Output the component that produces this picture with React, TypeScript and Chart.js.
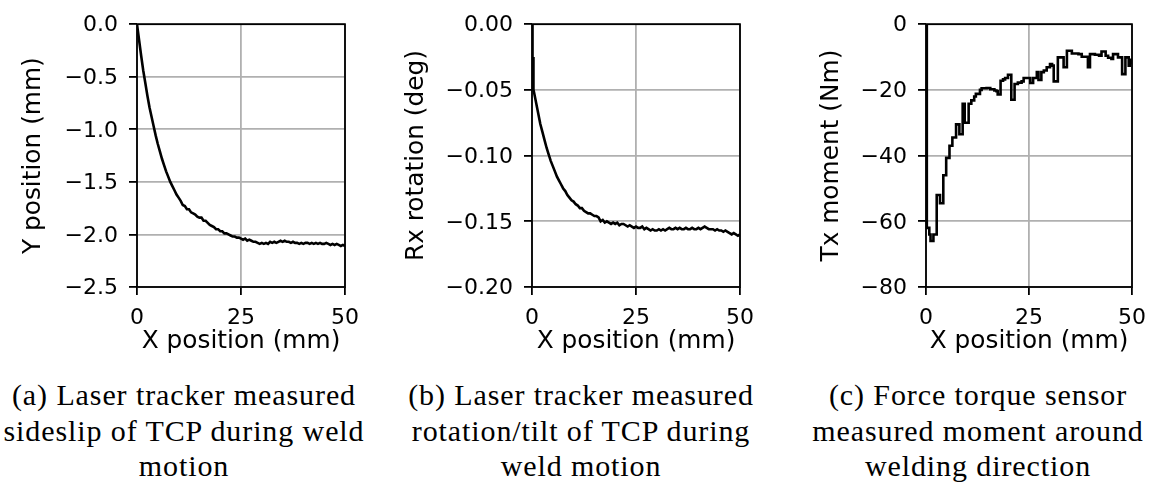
import React, { useEffect, useRef } from 'react';
import { Chart, registerables } from 'chart.js';

Chart.register(...registerables);

// ---------- data ----------
const xA = [0, 0.5, 1, 1.5, 2, 2.5, 3, 3.5, 4, 4.5, 5, 5.5, 6, 6.5, 7, 7.5, 8, 8.5, 9, 9.5, 10, 10.5, 11, 11.5, 12, 12.5, 13, 13.5, 14, 14.5, 15, 15.5, 16, 16.5, 17, 17.5, 18, 18.5, 19, 19.5, 20, 20.5, 21, 21.5, 22, 22.5, 23, 23.5, 24, 24.5, 25, 25.5, 26, 26.5, 27, 27.5, 28, 28.5, 29, 29.5, 30, 30.5, 31, 31.5, 32, 32.5, 33, 33.5, 34, 34.5, 35, 35.5, 36, 36.5, 37, 37.5, 38, 38.5, 39, 39.5, 40, 40.5, 41, 41.5, 42, 42.5, 43, 43.5, 44, 44.5, 45, 45.5, 46, 46.5, 47, 47.5, 48, 48.5, 49, 49.5, 50];
const yA = [0, -0.15, -0.30, -0.44, -0.56, -0.68, -0.79, -0.88, -0.97, -1.06, -1.14, -1.21, -1.28, -1.34, -1.40, -1.45, -1.50, -1.54, -1.58, -1.62, -1.65, -1.68, -1.72, -1.73, -1.76, -1.76, -1.79, -1.80, -1.81, -1.83, -1.84, -1.84, -1.87, -1.87, -1.89, -1.91, -1.92, -1.93, -1.95, -1.95, -1.97, -1.97, -1.99, -1.99, -2.00, -2.01, -2.02, -2.02, -2.03, -2.03, -2.04, -2.05, -2.04, -2.06, -2.05, -2.06, -2.07, -2.07, -2.08, -2.09, -2.08, -2.09, -2.08, -2.09, -2.07, -2.08, -2.07, -2.08, -2.07, -2.06, -2.07, -2.06, -2.07, -2.07, -2.08, -2.07, -2.08, -2.08, -2.09, -2.08, -2.09, -2.08, -2.08, -2.09, -2.08, -2.09, -2.08, -2.09, -2.08, -2.09, -2.09, -2.08, -2.09, -2.10, -2.09, -2.10, -2.09, -2.10, -2.11, -2.10, -2.11];

const xB = [0, 0.1, 0.15, 0.25, 0.35, 0.5, 1, 1.5, 2, 2.5, 3, 3.5, 4, 4.5, 5, 5.5, 6, 6.5, 7, 7.5, 8, 8.5, 9, 9.5, 10, 10.5, 11, 11.5, 12, 12.5, 13, 13.5, 14, 14.5, 15, 15.5, 16, 16.5, 17, 17.5, 18, 18.5, 19, 19.5, 20, 20.5, 21, 21.5, 22, 22.5, 23, 23.5, 24, 24.5, 25, 25.5, 26, 26.5, 27, 27.5, 28, 28.5, 29, 29.5, 30, 30.5, 31, 31.5, 32, 32.5, 33, 33.5, 34, 34.5, 35, 35.5, 36, 36.5, 37, 37.5, 38, 38.5, 39, 39.5, 40, 40.5, 41, 41.5, 42, 42.5, 43, 43.5, 44, 44.5, 45, 45.5, 46, 46.5, 47, 47.5, 48, 48.5, 49, 49.5, 50];
const yB = [0, -0.02, -0.045, -0.025, -0.05, -0.052, -0.060, -0.068, -0.076, -0.082, -0.088, -0.094, -0.099, -0.104, -0.108, -0.112, -0.116, -0.119, -0.122, -0.125, -0.127, -0.130, -0.132, -0.134, -0.135, -0.137, -0.138, -0.140, -0.140, -0.142, -0.143, -0.144, -0.144, -0.145, -0.146, -0.146, -0.147, -0.150, -0.149, -0.151, -0.150, -0.151, -0.152, -0.151, -0.152, -0.151, -0.153, -0.152, -0.152, -0.153, -0.154, -0.153, -0.154, -0.155, -0.154, -0.155, -0.155, -0.154, -0.156, -0.155, -0.156, -0.157, -0.156, -0.157, -0.157, -0.156, -0.157, -0.156, -0.157, -0.156, -0.155, -0.156, -0.156, -0.155, -0.156, -0.155, -0.156, -0.156, -0.155, -0.156, -0.156, -0.155, -0.156, -0.156, -0.155, -0.156, -0.155, -0.154, -0.155, -0.156, -0.156, -0.156, -0.157, -0.156, -0.157, -0.157, -0.158, -0.157, -0.158, -0.159, -0.160, -0.159, -0.160, -0.161, -0.160];

const xC = [0, 0.2, 0.8, 1.1, 1.8, 2.6, 3.4, 4.2, 4.9, 5.7, 6.4, 7.3, 8.1, 8.9, 9.4, 10.35, 11.0, 11.7, 12.1, 13.1, 13.5, 14.7, 15.6, 16.6, 17.1, 17.4, 18.1, 18.7, 19.2, 19.9, 20.7, 21.5, 22.3, 23.2, 23.7, 25.3, 26.0, 26.9, 27.3, 28.0, 28.6, 29.3, 30.1, 30.6, 31.0, 32.0, 33.4, 34.2, 35.4, 37.0, 37.8, 39.3, 39.8, 41.0, 42.0, 42.6, 43.6, 44.2, 45.0, 45.4, 46.6, 47.6, 48.4, 49.2, 49.5, 49.8, 50];
const yC = [0, -62, -64, -66, -64, -52, -54.5, -46, -40.7, -37, -34.5, -30.5, -33.5, -24.2, -30, -24.2, -23.2, -22, -21.2, -20, -19.5, -19.4, -19.8, -20.2, -20.4, -21.4, -17.2, -16.8, -16.4, -15.4, -23, -18.2, -17.8, -17.4, -16.4, -17.9, -16.4, -14.6, -17, -14.6, -14.1, -13.1, -12.1, -12.6, -17.4, -10.1, -13.1, -8.1, -8.9, -9.1, -9.9, -13.1, -9.1, -9.3, -9.6, -8.3, -9.6, -10.2, -10.6, -9.1, -10.1, -15.2, -10.1, -12.6, -10.8, -11.8, -11.8];

const xTicks = [0, 25, 50];
const xTickLabels = ['0', '25', '50'];
const yTicksA = [0, -0.5, -1, -1.5, -2, -2.5];
const yTickLabelsA = ['0.0', '\u22120.5', '\u22121.0', '\u22121.5', '\u22122.0', '\u22122.5'];
const yTicksB = [0, -0.05, -0.1, -0.15, -0.2];
const yTickLabelsB = ['0.00', '\u22120.05', '\u22120.10', '\u22120.15', '\u22120.20'];
const yTicksC = [0, -20, -40, -60, -80];
const yTickLabelsC = ['0', '\u221220', '\u221240', '\u221260', '\u221280'];

const xTitle = 'X position (mm)';
const yTitles = ['Y position (mm)', 'Rx rotation (deg)', 'Tx moment (Nm)'];
const captionA = ['(a) Laser tracker measured', 'sideslip of TCP during weld', 'motion'];
const captionB = ['(b) Laser tracker measured', 'rotation/tilt of TCP during', 'weld motion'];
const captionC = ['(c) Force torque sensor', 'measured moment around', 'welding direction'];

// ---------- layout ----------
const CANVAS_H = 370;
const SANS = '"DejaVu Sans", sans-serif';
const TITLE_SIZE = 24.8;
Chart.defaults.font.family = SANS;

const framePlugin = {
  id: 'frame',
  afterDraw(chart: any) {
    const { ctx, chartArea } = chart;
    const { left, top, right, bottom } = chartArea;
    ctx.save();
    ctx.strokeStyle = '#000';
    ctx.lineWidth = 1.8;
    ctx.strokeRect(left, top, right - left, bottom - top);
    ctx.restore();
  },
};

type Spec = {
  left: number;
  width: number;
  yAxisWidth: number;
  padRight: number;
  xs: number[];
  ys: number[];
  stepped: boolean;
  lineWidth: number;
  yMin: number;
  yMax: number;
  yTicks: number[];
  yTickLabels: string[];
  yTitle: string;
  yTitlePad: number;
};

function Panel({ spec }: { spec: Spec }) {
  const ref = useRef<HTMLCanvasElement>(null);
  useEffect(() => {
    if (!ref.current) return;
    const chart = new Chart(ref.current, {
      type: 'line',
      data: {
        datasets: [
          {
            data: spec.xs.map((x, i) => ({ x, y: spec.ys[i] })),
            borderColor: '#000',
            borderWidth: spec.lineWidth,
            pointRadius: 0,
            fill: false,
            tension: 0,
            stepped: spec.stepped,
          } as any,
        ],
      },
      options: {
        animation: false,
        responsive: false,
        events: [],
        layout: { padding: { top: 20, left: 0, right: spec.padRight, bottom: 0 } },
        plugins: { legend: { display: false }, tooltip: { enabled: false } },
        scales: {
          x: {
            type: 'linear',
            min: 0,
            max: 50,
            afterBuildTicks: (s: any) => {
              s.ticks = xTicks.map((v) => ({ value: v }));
            },
            afterFit: (s: any) => {
              s.height = CANVAS_H - 287;
            },
            ticks: {
              autoSkip: false,
              maxRotation: 0,
              padding: 10,
              color: '#000',
              font: { family: SANS, size: 22 },
              callback: (_v: any, i: number) => xTickLabels[i],
            },
            grid: { color: '#b0b0b0', lineWidth: 1.8, tickColor: '#000', tickLength: 8, tickWidth: 1.8 },
            border: { display: false },
            title: {
              display: true,
              text: xTitle,
              color: '#000',
              font: { family: SANS, size: TITLE_SIZE },
              padding: { top: 0, bottom: 13.5 },
            },
          },
          y: {
            type: 'linear',
            min: spec.yMin,
            max: spec.yMax,
            afterBuildTicks: (s: any) => {
              s.ticks = spec.yTicks.map((v) => ({ value: v }));
            },
            afterFit: (s: any) => {
              s.width = spec.yAxisWidth;
            },
            ticks: {
              autoSkip: false,
              padding: 11,
              labelOffset: 1.5,
              color: '#000',
              font: { family: SANS, size: 22 },
              callback: (_v: any, i: number) => spec.yTickLabels[i],
            },
            grid: { color: '#b0b0b0', lineWidth: 1.8, tickColor: '#000', tickLength: 8, tickWidth: 1.8 },
            border: { display: false },
            title: {
              display: true,
              text: spec.yTitle,
              color: '#000',
              font: { family: SANS, size: TITLE_SIZE },
              padding: { top: spec.yTitlePad, bottom: 0 },
            },
          },
        },
      } as any,
      plugins: [framePlugin],
    });
    return () => chart.destroy();
  }, []);
  return (
    <canvas
      ref={ref}
      width={spec.width}
      height={CANVAS_H}
      style={{ position: 'absolute', left: spec.left, top: 0, width: spec.width, height: CANVAS_H }}
    />
  );
}

const specs: Spec[] = [
  { left: 0, width: 380, yAxisWidth: 137, padRight: 35, xs: xA, ys: yA, stepped: false, lineWidth: 2.6, yMin: -2.5, yMax: 0, yTicks: yTicksA, yTickLabels: yTickLabelsA, yTitle: yTitles[0], yTitlePad: 18.5 },
  { left: 380, width: 390, yAxisWidth: 152, padRight: 30, xs: xB, ys: yB, stepped: false, lineWidth: 2.6, yMin: -0.2, yMax: 0, yTicks: yTicksB, yTickLabels: yTickLabelsB, yTitle: yTitles[1], yTitlePad: 21.6 },
  { left: 770, width: 386, yAxisWidth: 156, padRight: 21, xs: xC, ys: yC, stepped: true, lineWidth: 2.6, yMin: -80, yMax: 0, yTicks: yTicksC, yTickLabels: yTickLabelsC, yTitle: yTitles[2], yTitlePad: 47 },
];

const captions = [
  { center: 184, lines: captionA },
  { center: 581, lines: captionB },
  { center: 978, lines: captionC },
];

export default function App() {
  return (
    <div style={{ position: 'absolute', left: 0, top: 0, width: 1156, height: 487, background: '#fff', overflow: 'hidden' }}>
      {specs.map((s, i) => (
        <Panel key={i} spec={s} />
      ))}
      {captions.map((c, i) => (
        <div
          key={i}
          style={{
            position: 'absolute',
            left: c.center - 220,
            top: 377,
            width: 440,
            textAlign: 'center',
            fontFamily: '"Liberation Serif", serif',
            fontSize: 30,
            letterSpacing: 0.9,
            lineHeight: '35.5px',
            color: '#000',
            whiteSpace: 'nowrap',
          }}
        >
          {c.lines.map((l, j) => (
            <div key={j}>{l}</div>
          ))}
        </div>
      ))}
    </div>
  );
}
